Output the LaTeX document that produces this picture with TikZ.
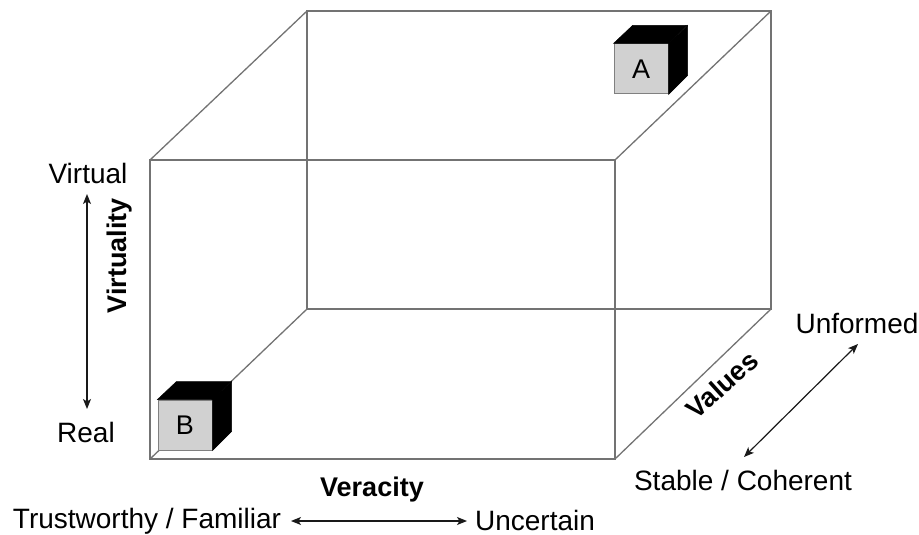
\documentclass[tikz,border=0pt]{standalone}
\usepackage{fontspec}
\setmainfont{Liberation Sans}
\usetikzlibrary{arrows.meta}
\begin{document}
\begin{tikzpicture}[x=1pt,y=-1pt,
  edge/.style={draw=black!55, line width=1.3pt},
  lbl/.style={font=\fontsize{28}{32}\selectfont, inner sep=0pt},
  ttl/.style={font=\fontsize{27}{32}\selectfont\bfseries, inner sep=0pt},
  dbl/.style={{Stealth[length=10pt,width=8pt,inset=2.5pt]}-{Stealth[length=10pt,width=8pt,inset=2.5pt]}, line width=1.2pt, draw=black!90},
  face/.style={fill=black!18, draw=black!50, line width=1pt, minimum width=54pt, minimum height=50pt, inner sep=0pt, font=\fontsize{27}{30}\selectfont},
  dark/.style={fill=black, draw=black, line width=0.5pt}]
\useasboundingbox (0,0) rectangle (919,535);
% big box corners
\coordinate (F1) at (150,160);
\coordinate (F2) at (615,160);
\coordinate (F3) at (615,459);
\coordinate (F4) at (150,459);
\coordinate (B1) at (307,11);
\coordinate (B2) at (771,11);
\coordinate (B3) at (771,309);
\coordinate (B4) at (307,309);
\draw[edge] (B1) -- (B2) -- (B3) -- (B4) -- cycle;
\draw[edge] (F1) -- (B1);
\draw[edge] (F2) -- (B2);
\draw[edge] (F3) -- (B3);
\draw[edge] (F4) -- (B4);
\draw[edge] (F1) -- (F2) -- (F3) -- (F4) -- cycle;
% small cube A
\node[face] (A) at (641,69) {A};
\path[dark] (A.north west) -- ++(19,-18) -- ++(54,0) -- (A.north east) -- cycle;
\path[dark] (A.north east) -- ++(19,-18) -- ++(0,50) -- (A.south east) -- cycle;
% small cube B
\node[face] (B) at (185,425) {B};
\path[dark] (B.north west) -- ++(19,-18) -- ++(54,0) -- (B.north east) -- cycle;
\path[dark] (B.north east) -- ++(19,-18) -- ++(0,50) -- (B.south east) -- cycle;
% Virtuality axis
\node[lbl] (virtual) at (88,173) {Virtual};
\node[lbl] (real) at (86,432) {Real};
\coordinate (vt) at (87,194);
\coordinate (vb) at (87,409);
\draw[dbl] (vt) -- (vb);
\node[ttl, rotate=90] (virtuality) at (120,256) {Virtuality};
% Veracity axis
\node[ttl] (veracity) at (372,490) {Veracity};
\node[lbl] (trust) at (147,521) {Trustworthy / Familiar};
\node[lbl] (uncertain) at (535,520) {Uncertain};
\coordinate (tl) at (291,521);
\coordinate (tr) at (467,521);
\draw[dbl] (tl) -- (tr);
% Values axis
\node[lbl] (unformed) at (857,323) {Unformed};
\node[lbl] (stable) at (743,480) {Stable / Coherent};
\coordinate (ua) at (858,344);
\coordinate (sa) at (744,457);
\draw[dbl] (ua) -- (sa);
\node[ttl, rotate=42] (values) at (722,385) {Values};
\end{tikzpicture}
\end{document}
